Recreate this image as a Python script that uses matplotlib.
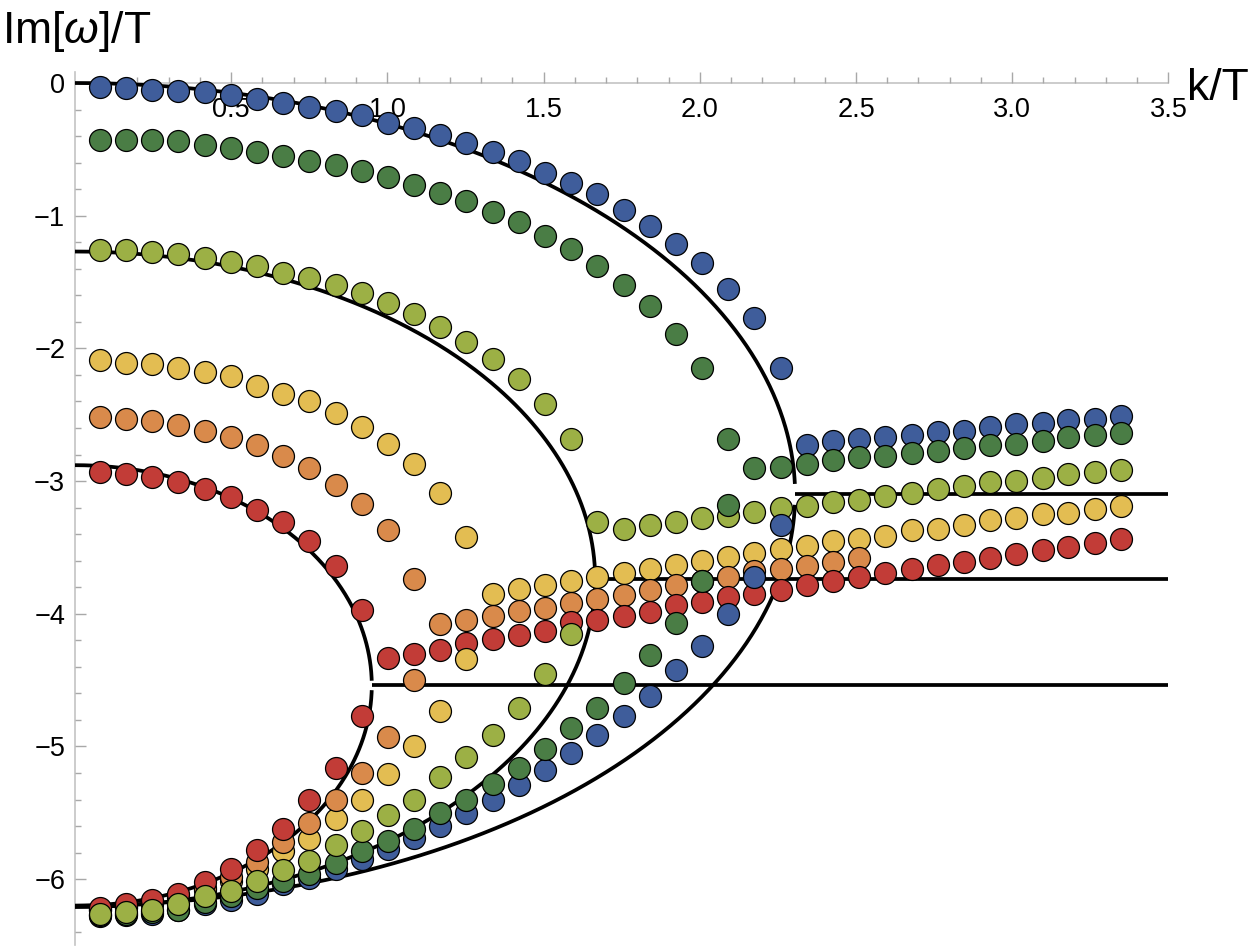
import matplotlib
matplotlib.use('Agg')
import matplotlib.pyplot as plt
import numpy as np

plt.rcParams['font.family'] = ['Liberation Sans', 'DejaVu Sans']
plt.rcParams['mathtext.fontset'] = 'custom'
plt.rcParams['mathtext.rm'] = 'Liberation Sans'
plt.rcParams['mathtext.it'] = 'Liberation Sans:italic'

# k/T grid (40 momenta)
k = [0.080, 0.164, 0.247, 0.331, 0.415, 0.499, 0.583, 0.666, 0.750, 0.834,
     0.918, 1.002, 1.085, 1.169, 1.253, 1.337, 1.421, 1.504, 1.588, 1.672,
     1.756, 1.840, 1.923, 2.007, 2.091, 2.175, 2.259, 2.342, 2.426, 2.510,
     2.594, 2.678, 2.761, 2.845, 2.929, 3.013, 3.097, 3.180, 3.264, 3.348]

# Im[w]/T for each colour: top branch, bottom branch (both from first k), merged branch (from index given)
blue_top = [-0.03, -0.04, -0.05, -0.06, -0.07, -0.09, -0.12, -0.15, -0.18, -0.21,
            -0.24, -0.30, -0.34, -0.39, -0.45, -0.52, -0.59, -0.68, -0.75, -0.84,
            -0.96, -1.08, -1.21, -1.36, -1.55, -1.77, -2.15]
blue_bottom = [-6.28, -6.27, -6.26, -6.23, -6.19, -6.16, -6.11, -6.04, -5.99, -5.92,
               -5.85, -5.77, -5.69, -5.60, -5.50, -5.40, -5.29, -5.18, -5.05, -4.91,
               -4.77, -4.62, -4.42, -4.24, -4.00, -3.72, -3.33]
blue_pair = [-2.73, -2.70, -2.68, -2.67, -2.65, -2.63, -2.62, -2.59, -2.57, -2.56,
             -2.54, -2.53, -2.51]
blue_pair_start = 27

green_top = [-0.43, -0.43, -0.43, -0.44, -0.47, -0.49, -0.52, -0.55, -0.59, -0.62,
             -0.66, -0.71, -0.77, -0.83, -0.89, -0.97, -1.05, -1.15, -1.25, -1.38,
             -1.52, -1.68, -1.89, -2.15, -2.68]
green_bottom = [-6.27, -6.26, -6.25, -6.23, -6.17, -6.13, -6.07, -6.01, -5.96, -5.88,
                -5.79, -5.71, -5.62, -5.50, -5.40, -5.28, -5.16, -5.02, -4.86, -4.71,
                -4.52, -4.31, -4.07, -3.75, -3.18]
green_pair = [-2.90, -2.89, -2.87, -2.84, -2.82, -2.81, -2.79, -2.77, -2.75, -2.73,
              -2.72, -2.70, -2.67, -2.65, -2.64]
green_pair_start = 25

ygreen_top = [-1.26, -1.26, -1.27, -1.29, -1.32, -1.35, -1.38, -1.43, -1.47, -1.52,
              -1.58, -1.66, -1.74, -1.84, -1.95, -2.08, -2.23, -2.42, -2.68]
ygreen_bottom = [-6.26, -6.25, -6.23, -6.19, -6.13, -6.09, -6.01, -5.93, -5.86, -5.74,
                 -5.64, -5.52, -5.40, -5.23, -5.08, -4.91, -4.71, -4.45, -4.15]
ygreen_pair = [-3.31, -3.36, -3.33, -3.31, -3.28, -3.26, -3.23, -3.20, -3.19, -3.16,
               -3.14, -3.11, -3.09, -3.06, -3.04, -3.01, -3.00, -2.98, -2.95, -2.93,
               -2.92]
ygreen_pair_start = 19

yellow_top = [-2.09, -2.11, -2.12, -2.15, -2.18, -2.21, -2.28, -2.34, -2.40, -2.49,
              -2.59, -2.72, -2.87, -3.09, -3.42]
yellow_bottom = [-6.23, -6.22, -6.19, -6.14, -6.08, -6.01, -5.92, -5.79, -5.70, -5.55,
                 -5.40, -5.21, -5.00, -4.73, -4.34]
yellow_pair = [-3.85, -3.81, -3.78, -3.75, -3.72, -3.69, -3.66, -3.63, -3.60, -3.57,
               -3.54, -3.51, -3.49, -3.45, -3.44, -3.41, -3.37, -3.36, -3.33, -3.29,
               -3.28, -3.25, -3.24, -3.21, -3.19]
yellow_pair_start = 15

orange_top = [-2.52, -2.53, -2.55, -2.58, -2.62, -2.67, -2.73, -2.81, -2.90, -3.03,
              -3.17, -3.37, -3.74]
orange_bottom = [-6.23, -6.21, -6.18, -6.13, -6.07, -5.98, -5.87, -5.72, -5.58, -5.40,
                 -5.20, -4.93, -4.50]
orange_pair = [-4.08, -4.05, -4.02, -3.98, -3.96, -3.92, -3.89, -3.86, -3.82, -3.78,
               -3.75, -3.72, -3.68, -3.66, -3.64, -3.61, -3.58]
orange_pair_start = 13

red_top = [-2.93, -2.95, -2.97, -3.01, -3.06, -3.12, -3.22, -3.31, -3.45, -3.64,
           -3.97]
red_bottom = [-6.22, -6.19, -6.16, -6.11, -6.02, -5.92, -5.78, -5.62, -5.40, -5.16,
              -4.77]
red_pair = [-4.33, -4.30, -4.27, -4.22, -4.19, -4.16, -4.13, -4.06, -4.05, -4.02,
            -3.99, -3.93, -3.91, -3.87, -3.85, -3.82, -3.78, -3.75, -3.72, -3.69,
            -3.66, -3.63, -3.61, -3.58, -3.55, -3.52, -3.50, -3.47, -3.44]
red_pair_start = 11

colors = {'blue': '#3f5d9b', 'green': '#4a7d45', 'ygreen': '#9cb045',
          'yellow': '#e3bd52', 'orange': '#d98a4b', 'red': '#c23c37'}

# analytic curves: centre, half height, critical k
curve_centre = [-3.10, -3.74, -4.54]
curve_half = [3.10, 2.47, 1.66]
curve_kc = [2.305, 1.665, 0.95]

fig = plt.figure(figsize=(12.5, 9.5), dpi=100)
ax = fig.add_axes([75 / 1250, 5 / 950, 1093.4 / 1250, 873 / 950])

for c, h, kc in zip(curve_centre, curve_half, curve_kc):
    t = np.linspace(0, np.pi / 2 - 0.03, 300)
    ax.plot(kc * np.sin(t), c + h * np.cos(t), color='black', lw=2.7, zorder=2)
    ax.plot(kc * np.sin(t), c - h * np.cos(t), color='black', lw=2.7, zorder=2)
    ax.plot([kc, 3.5], [c, c], color='black', lw=2.7, zorder=2, solid_capstyle='butt')

mk = dict(ls='none', marker='o', ms=15.8, mec='black', mew=0.9, clip_on=False)

pairs = [('blue', blue_pair, blue_pair_start), ('green', green_pair, green_pair_start),
         ('ygreen', ygreen_pair, ygreen_pair_start), ('yellow', yellow_pair, yellow_pair_start),
         ('orange', orange_pair, orange_pair_start), ('red', red_pair, red_pair_start)]
tops = [('blue', blue_top), ('green', green_top), ('ygreen', ygreen_top),
        ('yellow', yellow_top), ('orange', orange_top), ('red', red_top)]
bottoms = [('blue', blue_bottom), ('green', green_bottom), ('yellow', yellow_bottom),
           ('orange', orange_bottom), ('red', red_bottom), ('ygreen', ygreen_bottom)]

z = 3
for name, vals in tops:
    ax.plot(k[:len(vals)], vals, mfc=colors[name], zorder=z, **mk)
    z += 0.01
for name, vals, s in pairs:
    ax.plot(k[s:s + len(vals)], vals, mfc=colors[name], zorder=z, **mk)
    z += 0.01
for name, vals in bottoms:
    ax.plot(k[:len(vals)], vals, mfc=colors[name], zorder=z, **mk)
    z += 0.01

ax.set_xlim(0, 3.5)
ax.set_ylim(-6.496, 0.083)
ax.spines['top'].set_visible(False)
ax.spines['right'].set_visible(False)
ax.spines['bottom'].set_position(('data', 0))
for s in ['left', 'bottom']:
    ax.spines[s].set_color('#c4c4c4')
    ax.spines[s].set_linewidth(1.2)
    ax.spines[s].set_zorder(1)

xt = [0.5, 1.0, 1.5, 2.0, 2.5, 3.0, 3.5]
ax.set_xticks(xt)
ax.set_xticklabels(['%.1f' % v for v in xt])
ax.set_xticks([i / 10 for i in range(1, 35) if i % 5 != 0], minor=True)
yt = [0, -1, -2, -3, -4, -5, -6]
ax.set_yticks(yt)
ax.set_yticklabels(['0'] + ['\u2212%d' % (-v) for v in yt[1:]])
ax.set_yticks([-i / 5 for i in range(1, 33) if i % 5 != 0], minor=True)
ax.tick_params(which='both', direction='in', color='#a8a8a8', width=1, labelsize=19.5)
ax.tick_params(which='major', length=8)
ax.tick_params(which='minor', length=4.5)
ax.tick_params(axis='x', pad=10)
ax.tick_params(axis='y', pad=7)

fig.text(2 / 1250, 1 - 43 / 950, 'Im[$\\omega$]/T', fontsize=32, ha='left', va='baseline')
fig.text(1187 / 1250, 1 - 100 / 950, 'k/T', fontsize=32, ha='left', va='baseline')

fig.savefig('out.png', dpi=100)
